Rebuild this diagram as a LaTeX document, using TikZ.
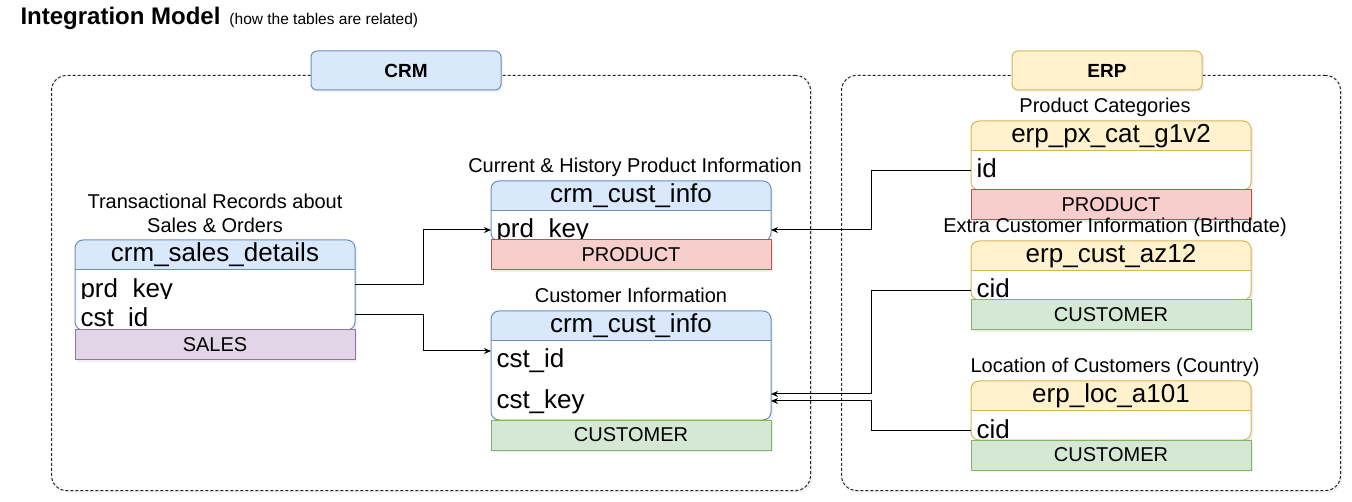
\documentclass[tikz,border=0pt]{standalone}
\usepackage{fontspec}
\setmainfont{Liberation Sans}
\usetikzlibrary{positioning,arrows.meta,shadows}

\definecolor{crmfill}{HTML}{DAE8FC}
\definecolor{crmline}{HTML}{6C8EBF}
\definecolor{erpfill}{HTML}{FFF2CC}
\definecolor{erpline}{HTML}{D6B656}
\definecolor{prodfill}{HTML}{F8CECC}
\definecolor{prodline}{HTML}{B85450}
\definecolor{custfill}{HTML}{D5E8D4}
\definecolor{custline}{HTML}{82B366}
\definecolor{salesfill}{HTML}{E1D5E7}
\definecolor{salesline}{HTML}{9673A6}

\begin{document}
\begin{tikzpicture}[x=1pt,y=-1pt,line width=1pt,
    shdw/.style={drop shadow={opacity=0.12,shadow xshift=2pt,shadow yshift=-2pt}},
    group/.style={rectangle, draw=black!85, dash pattern=on 3pt off 2pt,
      rounded corners=15pt, fill=white, anchor=north west, shdw},
    grouplabel/.style={rectangle, draw, rounded corners=6pt, minimum width=190pt,
      minimum height=39pt, inner sep=0pt, shdw, font=\bfseries\fontsize{19}{22}\selectfont},
    tblframe/.style={rectangle, minimum width=280pt, inner sep=0pt, outer sep=0pt,
      anchor=north west, rounded corners=8pt, shdw},
    tbltitle/.style={inner sep=0pt, font=\fontsize{26}{30}\selectfont},
    rowtxt/.style={anchor=west, inner xsep=5pt, inner ysep=0pt, text depth=0pt,
      font=\fontsize{26}{30}\selectfont},
    footbox/.style={rectangle, minimum width=280pt, minimum height=30pt, inner sep=0pt,
      outer sep=0pt, shdw, font=\fontsize{20}{24}\selectfont},
    capt/.style={inner sep=0pt, align=center, font=\fontsize{20}{24}\selectfont},
    link/.style={draw=black, -{Stealth[length=7pt,width=6pt]}}]
  \useasboundingbox (0,0) rectangle (1352,502);

  % heading
  \node[anchor=base west, inner sep=0pt, font=\bfseries\fontsize{24}{28}\selectfont]
    (title) at (20,25) {Integration Model};
  \node[anchor=base west, inner sep=0pt, font=\fontsize{15.5}{18}\selectfont]
    (subtitle) at ([xshift=8pt]title.base east) {(how the tables are related)};

  % source systems
  \node[group, minimum width=759pt, minimum height=415pt] (crm) at (51,75) {};
  \node[group, minimum width=499pt, minimum height=415pt] (erp) at (841,75) {};
  \node[grouplabel, fill=crmfill, draw=crmline] (crmlabel) at (406,70.5) {CRM};
  \node[grouplabel, fill=erpfill, draw=erpline] (erplabel) at (1107,70.5) {ERP};

  % crm_sales_details
  \node[tblframe, minimum height=90pt] (sales) at (75,240) {};
  \begin{scope}
    \clip[rounded corners=8pt] (sales.north west) rectangle (sales.south east);
    \fill[white] (sales.north west) rectangle (sales.south east);
    \fill[crmfill] (sales.north west) rectangle ([yshift=-30pt]sales.north east);
  \end{scope}
  \draw[crmline, rounded corners=8pt] (sales.north west) rectangle (sales.south east);
  \draw[crmline] ([yshift=-30pt]sales.north west) -- ([yshift=-30pt]sales.north east);
  \node[tbltitle] (sales-t) at ([yshift=-15pt]sales.north) {crm\_sales\_details};
  \begin{scope}
    \clip (75,270) rectangle (355,298.5) (75,303) rectangle (355,328.5);
    \node[rowtxt, text height=26pt] (sales-prd) at ([yshift=-45pt]sales.north west) {prd\_key};
    \node[rowtxt, text height=24pt] (sales-cst) at ([yshift=-75pt]sales.north west) {cst\_id};
  \end{scope}
  \node[footbox, fill=salesfill, draw=salesline, below=0pt of sales] (sales-f) {SALES};
  \node[capt, anchor=south] (sales-c) at ([yshift=7pt]sales.north)
    {Transactional Records about\\Sales \& Orders};

  % crm_prd_info
  \node[tblframe, minimum height=60pt] (prod) at (491,181) {};
  \begin{scope}
    \clip[rounded corners=8pt] (prod.north west) rectangle (prod.south east);
    \fill[white] (prod.north west) rectangle (prod.south east);
    \fill[crmfill] (prod.north west) rectangle ([yshift=-30pt]prod.north east);
  \end{scope}
  \draw[crmline, rounded corners=8pt] (prod.north west) rectangle (prod.south east);
  \draw[crmline] ([yshift=-30pt]prod.north west) -- ([yshift=-30pt]prod.north east);
  \node[tbltitle] (prod-t) at ([yshift=-15pt]prod.north) {crm\_cust\_info};
  \node[rowtxt, text height=16pt] (prod-prd) at ([yshift=-49pt]prod.north west) {prd\_key};
  \node[footbox, fill=prodfill, draw=prodline, below=-1pt of prod] (prod-f) {PRODUCT};
  \node[capt, anchor=base] (prod-c) at ([xshift=4pt,yshift=8pt]prod.north) {Current \& History Product Information};

  % crm_cust_info
  \node[tblframe, minimum height=109pt] (cust) at (491,311) {};
  \begin{scope}
    \clip[rounded corners=8pt] (cust.north west) rectangle (cust.south east);
    \fill[white] (cust.north west) rectangle (cust.south east);
    \fill[crmfill] (cust.north west) rectangle ([yshift=-30pt]cust.north east);
  \end{scope}
  \draw[crmline, rounded corners=8pt] (cust.north west) rectangle (cust.south east);
  \draw[crmline] ([yshift=-30pt]cust.north west) -- ([yshift=-30pt]cust.north east);
  \node[tbltitle] (cust-t) at ([yshift=-15pt]cust.north) {crm\_cust\_info};
  \node[rowtxt, text height=34pt] (cust-id) at ([yshift=-40pt]cust.north west) {cst\_id};
  \node[rowtxt, text height=22pt] (cust-key) at ([yshift=-86.5pt]cust.north west) {cst\_key};
  \node[footbox, fill=custfill, draw=custline, below=0pt of cust] (cust-f) {CUSTOMER};
  \node[capt, anchor=base] (cust-c) at ([yshift=8pt]cust.north) {Customer Information};

  % erp_px_cat_g1v2
  \node[tblframe, minimum height=69pt] (cat) at (971,121) {};
  \begin{scope}
    \clip[rounded corners=8pt] (cat.north west) rectangle (cat.south east);
    \fill[white] (cat.north west) rectangle (cat.south east);
    \fill[erpfill] (cat.north west) rectangle ([yshift=-30pt]cat.north east);
  \end{scope}
  \draw[erpline, rounded corners=8pt] (cat.north west) rectangle (cat.south east);
  \draw[erpline] ([yshift=-30pt]cat.north west) -- ([yshift=-30pt]cat.north east);
  \node[tbltitle] (cat-t) at ([yshift=-15pt]cat.north) {erp\_px\_cat\_g1v2};
  \node[rowtxt, text height=14pt] (cat-id) at ([yshift=-50pt]cat.north west) {id};
  \node[footbox, fill=prodfill, draw=prodline, below=0pt of cat] (cat-f) {PRODUCT};
  \node[capt, anchor=base] (cat-c) at ([xshift=-6pt,yshift=8pt]cat.north) {Product Categories};

  % erp_cust_az12
  \node[tblframe, minimum height=59pt] (az) at (971,241) {};
  \begin{scope}
    \clip[rounded corners=8pt] (az.north west) rectangle (az.south east);
    \fill[white] (az.north west) rectangle (az.south east);
    \fill[erpfill] (az.north west) rectangle ([yshift=-30pt]az.north east);
  \end{scope}
  \draw[erpline, rounded corners=8pt] (az.north west) rectangle (az.south east);
  \draw[erpline] ([yshift=-30pt]az.north west) -- ([yshift=-30pt]az.north east);
  \node[tbltitle] (az-t) at ([yshift=-15pt]az.north) {erp\_cust\_az12};
  \node[rowtxt, text height=14pt] (az-cid) at ([yshift=-50pt]az.north west) {cid};
  \node[footbox, fill=custfill, draw=custline, below=0pt of az] (az-f) {CUSTOMER};
  \node[capt, anchor=base] (az-c) at ([xshift=4pt,yshift=8pt]az.north) {Extra Customer Information (Birthdate)};

  % erp_loc_a101
  \node[tblframe, minimum height=59pt] (loc) at (971,381) {};
  \begin{scope}
    \clip[rounded corners=8pt] (loc.north west) rectangle (loc.south east);
    \fill[white] (loc.north west) rectangle (loc.south east);
    \fill[erpfill] (loc.north west) rectangle ([yshift=-30pt]loc.north east);
  \end{scope}
  \draw[erpline, rounded corners=8pt] (loc.north west) rectangle (loc.south east);
  \draw[erpline] ([yshift=-30pt]loc.north west) -- ([yshift=-30pt]loc.north east);
  \node[tbltitle] (loc-t) at ([yshift=-15pt]loc.north) {erp\_loc\_a101};
  \node[rowtxt, text height=16pt] (loc-cid) at ([yshift=-49pt]loc.north west) {cid};
  \node[footbox, fill=custfill, draw=custline, below=0pt of loc] (loc-f) {CUSTOMER};
  \node[capt, anchor=base] (loc-c) at ([xshift=4pt,yshift=8pt]loc.north) {Location of Customers (Country)};

  % relations
  \draw[link] (sales-prd -| sales.east) -- ++(68,0) |- (prod-prd -| prod.west);
  \draw[link] (sales-cst -| sales.east) -- ++(68,0) |- (cust-id -| cust.west);
  \draw[link] (cat-id -| cat.west) -- ++(-100,0) |- (prod-prd -| prod.east);
  \draw[link] (az-cid -| az.west) -- ++(-100,0) |- ([yshift=3.5pt]cust-key -| cust.east);
  \draw[link] (loc-cid -| loc.west) -- ++(-100,0) |- ([yshift=-3.5pt]cust-key -| cust.east);
\end{tikzpicture}
\end{document}
